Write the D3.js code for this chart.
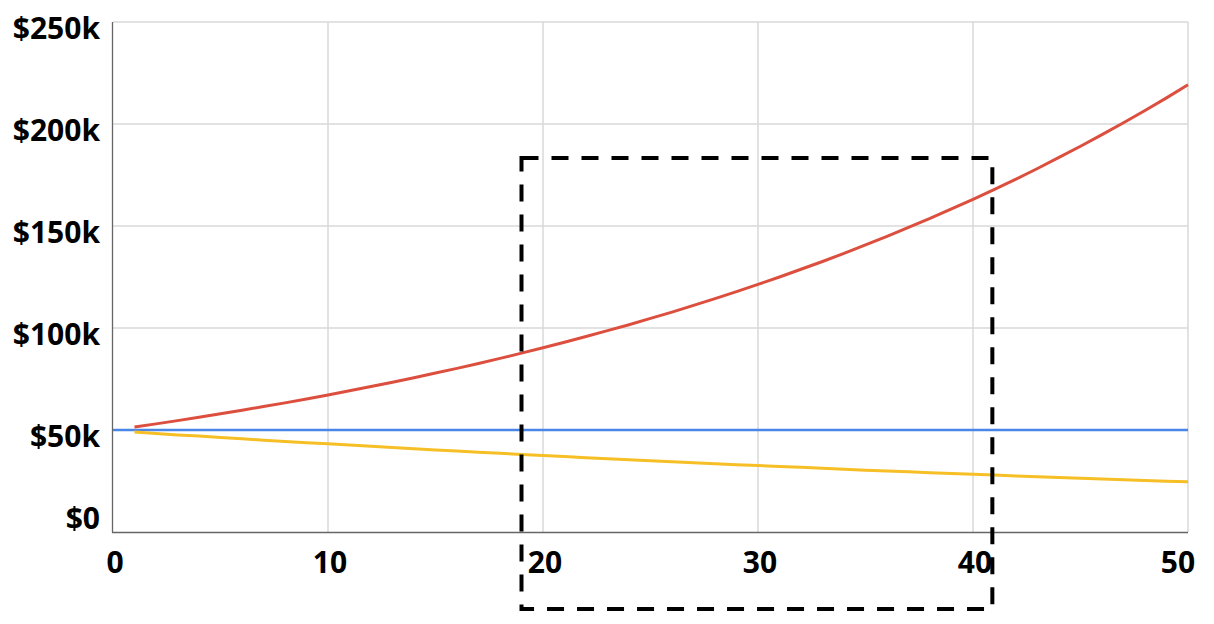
<!DOCTYPE html>
<html><head><meta charset="utf-8">
<script src="https://cdn.jsdelivr.net/npm/d3@7"></script>
<style>
html,body{margin:0;padding:0;background:#fff;}
svg text{font-family:"Open Sans",sans-serif;font-weight:700;font-size:30px;fill:#000;}
</style></head>
<body>
<svg id="c" width="1214" height="624"></svg>
<script>
const years = d3.range(0, 51);
const blueValues = [50,50,50,50,50,50,50,50,50,50,50,50,50,50,50,50,50,50,50,50,50,50,50,50,50,50,50,50,50,50,50,50,50,50,50,50,50,50,50,50,50,50,50,50,50,50,50,50,50,50,50];
const redValues = [null,51.5,53.0,54.6,56.3,58.0,59.7,61.5,63.3,65.2,67.2,69.2,71.3,73.4,75.6,77.9,80.2,82.6,85.1,87.7,90.3,93.0,95.8,98.7,101.6,104.7,107.8,111.1,114.4,117.8,121.4,125.0,128.8,132.6,136.6,140.7,144.9,149.3,153.7,158.4,163.1,168.0,173.0,178.2,183.6,189.1,194.8,200.6,206.6,212.8,219.2];
const yellowValues = [null,49.0,48.3,47.6,47.0,46.3,45.7,45.0,44.4,43.8,43.2,42.6,42.0,41.4,40.8,40.2,39.7,39.1,38.6,38.0,37.5,37.0,36.4,35.9,35.4,34.9,34.4,34.0,33.5,33.0,32.6,32.1,31.7,31.2,30.8,30.3,29.9,29.5,29.1,28.7,28.3,27.9,27.5,27.1,26.7,26.4,26.0,25.6,25.3,24.9,24.6];
const xTicks = [0,10,20,30,40,50];
const yTicks = [0,50,100,150,200,250];
const yTickLabels = ["$0","$50k","$100k","$150k","$200k","$250k"];
const boxX = [19.0, 40.9];
const boxY = [-37.7, 183.3];

const W = 1214, H = 624;
const m = {left:113, right:26, top:22, bottom:92};
const svg = d3.select("#c");
const x = d3.scaleLinear().domain([0,50]).range([m.left, W - m.right]);
const y = d3.scaleLinear().domain([0,250]).range([H - m.bottom, m.top]);

// gridlines
svg.append("g").selectAll("line.v").data(xTicks.filter(d => d > 0)).join("line")
  .attr("x1", d => x(d)).attr("x2", d => x(d))
  .attr("y1", y(0)).attr("y2", y(250))
  .attr("stroke", "#d9d9d9").attr("stroke-width", 1.5);
svg.append("g").selectAll("line.h").data(yTicks.filter(d => d > 0)).join("line")
  .attr("x1", x(0)).attr("x2", x(50))
  .attr("y1", d => y(d)).attr("y2", d => y(d))
  .attr("stroke", "#d9d9d9").attr("stroke-width", 1.5);

// axis lines
svg.append("line").attr("x1", x(0)-0.5).attr("x2", x(0)-0.5).attr("y1", y(250)).attr("y2", y(0)+0.5)
  .attr("stroke", "#666").attr("stroke-width", 1.3);
svg.append("line").attr("x1", x(0)-1).attr("x2", x(50)).attr("y1", y(0)+0.5).attr("y2", y(0)+0.5)
  .attr("stroke", "#666").attr("stroke-width", 1.3);

// tick labels
svg.append("g").selectAll("text").data(yTicks).join("text")
  .attr("x", 100)
  .attr("y", d => Math.max(19, Math.min(518, y(d) + 6)))
  .attr("dy", "0.35em")
  .attr("text-anchor", "end")
  .text((d, i) => yTickLabels[i]);
svg.append("g").selectAll("text").data(xTicks).join("text")
  .attr("x", d => Math.min(1178, x(d) + 2))
  .attr("y", 562)
  .attr("dy", "0.35em")
  .attr("text-anchor", "middle")
  .text(d => d);

// series
const line = vals => d3.line()
  .defined((d, i) => vals[i] != null)
  .x(d => x(d))
  .y((d, i) => y(vals[i]))(years);
svg.append("path").attr("d", line(blueValues)).attr("fill", "none")
  .attr("stroke", "#4a86e8").attr("stroke-width", 2.5);
svg.append("path").attr("d", line(yellowValues)).attr("fill", "none")
  .attr("stroke", "#f6bf26").attr("stroke-width", 3);
svg.append("path").attr("d", line(redValues)).attr("fill", "none")
  .attr("stroke", "#dc4f3e").attr("stroke-width", 3);

// dashed box
svg.append("rect")
  .attr("x", x(boxX[0])).attr("y", y(boxY[1]))
  .attr("width", x(boxX[1]) - x(boxX[0]))
  .attr("height", y(boxY[0]) - y(boxY[1]))
  .attr("fill", "none").attr("stroke", "#000").attr("stroke-width", 4)
  .attr("stroke-dasharray", "17 13");
</script>
</body></html>
